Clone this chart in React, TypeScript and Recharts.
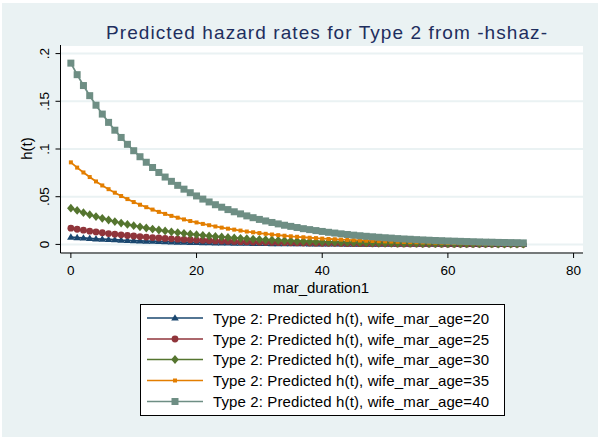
import React from 'react';
import { LineChart, Line, XAxis, YAxis, CartesianGrid } from 'recharts';

const durations = [
  0, 1, 2, 3, 4, 5, 6, 7, 8, 9, 10, 11, 12, 13, 14, 15, 16, 17, 18, 19, 20, 21, 22, 23, 24,
  25, 26, 27, 28, 29, 30, 31, 32, 33, 34, 35, 36, 37, 38, 39, 40, 41, 42, 43, 44, 45, 46, 47,
  48, 49, 50, 51, 52, 53, 54, 55, 56, 57, 58, 59, 60, 61, 62, 63, 64, 65, 66, 67, 68, 69, 70,
  71, 72,
];

const age20 = [
  0.0077, 0.0072, 0.0067, 0.0063, 0.0059, 0.0055, 0.0052, 0.0049, 0.0045, 0.0043, 0.004,
  0.0037, 0.0035, 0.0033, 0.0031, 0.0029, 0.0027, 0.0025, 0.0023, 0.0022, 0.0021, 0.0019,
  0.0018, 0.0017, 0.0016, 0.0015, 0.0014, 0.0013, 0.0012, 0.0011, 0.0011, 0.001, 0.0009,
  0.0009, 0.0008, 0.0008, 0.0007, 0.0007, 0.0006, 0.0006, 0.0005, 0.0005, 0.0005, 0.0005,
  0.0004, 0.0004, 0.0004, 0.0003, 0.0003, 0.0003, 0.0003, 0.0003, 0.0002, 0.0002, 0.0002,
  0.0002, 0.0002, 0.0002, 0.0002, 0.0002, 0.0001, 0.0001, 0.0001, 0.0001, 0.0001, 0.0001,
  0.0001, 0.0001, 0.0001, 0.0001, 0.0001, 0.0001, 0.0001,
];

const age25 = [
  0.017, 0.0159, 0.0149, 0.0139, 0.0131, 0.0122, 0.0114, 0.0107, 0.01, 0.0094, 0.0088,
  0.0082, 0.0077, 0.0072, 0.0067, 0.0063, 0.0059, 0.0055, 0.0052, 0.0049, 0.0045, 0.0043,
  0.004, 0.0037, 0.0035, 0.0033, 0.0031, 0.0029, 0.0027, 0.0025, 0.0023, 0.0022, 0.0021,
  0.0019, 0.0018, 0.0017, 0.0016, 0.0015, 0.0014, 0.0013, 0.0012, 0.0011, 0.0011, 0.001,
  0.0009, 0.0009, 0.0008, 0.0008, 0.0007, 0.0007, 0.0006, 0.0006, 0.0005, 0.0005, 0.0005,
  0.0005, 0.0004, 0.0004, 0.0004, 0.0003, 0.0003, 0.0003, 0.0003, 0.0003, 0.0002, 0.0002,
  0.0002, 0.0002, 0.0002, 0.0002, 0.0002, 0.0002, 0.0001,
];

const age30 = [
  0.038, 0.0356, 0.0333, 0.0312, 0.0292, 0.0273, 0.0256, 0.0239, 0.0224, 0.021, 0.0196,
  0.0184, 0.0172, 0.0161, 0.0151, 0.0141, 0.0132, 0.0124, 0.0116, 0.0108, 0.0102, 0.0095,
  0.0089, 0.0083, 0.0078, 0.0073, 0.0068, 0.0064, 0.006, 0.0056, 0.0052, 0.0049, 0.0046,
  0.0043, 0.004, 0.0038, 0.0035, 0.0033, 0.0031, 0.0029, 0.0027, 0.0025, 0.0024, 0.0022,
  0.0021, 0.0019, 0.0018, 0.0017, 0.0016, 0.0015, 0.0014, 0.0013, 0.0012, 0.0011, 0.0011,
  0.001, 0.0009, 0.0009, 0.0008, 0.0008, 0.0007, 0.0007, 0.0006, 0.0006, 0.0006, 0.0005,
  0.0005, 0.0005, 0.0004, 0.0004, 0.0004, 0.0004, 0.0003,
];

const age35 = [
  0.086, 0.0805, 0.0754, 0.0706, 0.066, 0.0618, 0.0579, 0.0542, 0.0507, 0.0475, 0.0444,
  0.0416, 0.039, 0.0365, 0.0341, 0.032, 0.0299, 0.028, 0.0262, 0.0245, 0.023, 0.0215,
  0.0201, 0.0188, 0.0176, 0.0165, 0.0155, 0.0145, 0.0135, 0.0127, 0.0119, 0.0111, 0.0104,
  0.0097, 0.0091, 0.0085, 0.008, 0.0075, 0.007, 0.0066, 0.0061, 0.0057, 0.0054, 0.005,
  0.0047, 0.0044, 0.0041, 0.0039, 0.0036, 0.0034, 0.0032, 0.003, 0.0028, 0.0026, 0.0024,
  0.0023, 0.0021, 0.002, 0.0019, 0.0018, 0.0016, 0.0015, 0.0014, 0.0013, 0.0013, 0.0012,
  0.0011, 0.001, 0.001, 0.0009, 0.0008, 0.0008, 0.0007,
];

const age40 = [
  0.19, 0.1779, 0.1665, 0.1559, 0.1459, 0.1366, 0.1279, 0.1197, 0.1121, 0.1049, 0.0982,
  0.0919, 0.0861, 0.0806, 0.0754, 0.0706, 0.0661, 0.0619, 0.0579, 0.0542, 0.0508, 0.0475,
  0.0445, 0.0416, 0.039, 0.0365, 0.0342, 0.032, 0.0299, 0.028, 0.0262, 0.0246, 0.023,
  0.0215, 0.0201, 0.0189, 0.0177, 0.0165, 0.0155, 0.0145, 0.0136, 0.0127, 0.0119, 0.0111,
  0.0104, 0.0097, 0.0091, 0.0085, 0.008, 0.0075, 0.007, 0.0066, 0.0061, 0.0057, 0.0054,
  0.005, 0.0047, 0.0044, 0.0041, 0.0039, 0.0036, 0.0034, 0.0032, 0.003, 0.0028, 0.0026,
  0.0024, 0.0023, 0.0021, 0.002, 0.0019, 0.0018, 0.0016,
];

const xTicks = [0, 20, 40, 60, 80];
const yTicks = [0, 0.05, 0.1, 0.15, 0.2];
const yTickLabels = ['0', '.05', '.1', '.15', '.2'];

const titleText = 'Predicted hazard rates for Type 2 from -hshaz-';
const xTitle = 'mar_duration1';
const yTitle = 'h(t)';

const seriesKeys = ['a20', 'a25', 'a30', 'a35', 'a40'];
const seriesNames = [
  'Type 2: Predicted h(t), wife_mar_age=20',
  'Type 2: Predicted h(t), wife_mar_age=25',
  'Type 2: Predicted h(t), wife_mar_age=30',
  'Type 2: Predicted h(t), wife_mar_age=35',
  'Type 2: Predicted h(t), wife_mar_age=40',
];
const seriesColors = ['#1A476F', '#90353B', '#55752F', '#E37E00', '#6E8E84'];
const seriesMarkers = ['triangle', 'circle', 'diamond', 'smsquare', 'square'];

const data = durations.map((t, i) => ({
  t,
  a20: age20[i],
  a25: age25[i],
  a30: age30[i],
  a35: age35[i],
  a40: age40[i],
}));

const FONT = '"Liberation Sans", Arial, sans-serif';

function marker(kind: string, cx: number, cy: number, color: string, key?: string) {
  if (kind === 'triangle') {
    return (
      <polygon
        key={key}
        points={`${cx},${cy - 3.8} ${cx - 3.8},${cy + 2.6} ${cx + 3.8},${cy + 2.6}`}
        fill={color}
      />
    );
  }
  if (kind === 'circle') {
    return <circle key={key} cx={cx} cy={cy} r={3.4} fill={color} />;
  }
  if (kind === 'diamond') {
    return (
      <polygon
        key={key}
        points={`${cx},${cy - 4.4} ${cx + 3.8},${cy} ${cx},${cy + 4.4} ${cx - 3.8},${cy}`}
        fill={color}
      />
    );
  }
  if (kind === 'smsquare') {
    return <rect key={key} x={cx - 2} y={cy - 2} width={4} height={4} fill={color} />;
  }
  return <rect key={key} x={cx - 3.5} y={cy - 3.5} width={7} height={7} fill={color} />;
}

const makeDot = (kind: string, color: string) => (props: any) => {
  const { cx, cy, index } = props;
  if (cx == null || cy == null) return <g key={`n-${index}`} />;
  return marker(kind, cx, cy, color, `${kind}-${index}`);
};

const YTick = (props: any) => {
  const { y, payload } = props;
  const idx = yTicks.indexOf(payload.value);
  const label = idx >= 0 ? yTickLabels[idx] : String(payload.value);
  return (
    <text
      x={49}
      y={y}
      transform={`rotate(-90 49 ${y})`}
      textAnchor="middle"
      fontFamily={FONT}
      fontSize={13.5}
      fill="#000"
    >
      {label}
    </text>
  );
};

const XTick = (props: any) => {
  const { x, payload } = props;
  return (
    <text x={x} y={275} textAnchor="middle" fontFamily={FONT} fontSize={13.5} fill="#000">
      {payload.value}
    </text>
  );
};

export default function App() {
  const legendTop = 304;
  const rowY = [318, 339, 359.5, 380.5, 401.5];
  return (
    <div style={{ position: 'absolute', left: 0, top: 0, width: 598, height: 437, background: '#fff' }}>
      <div
        style={{ position: 'absolute', left: 2, top: 3, width: 596, height: 434, background: '#EAF2F3' }}
      />
      <div style={{ position: 'absolute', left: 0, top: 0 }}>
        <LineChart
          width={598}
          height={437}
          data={data}
          margin={{ top: 45, right: 15, bottom: 154, left: 10.5 }}
        >
          <CartesianGrid
            vertical={false}
            horizontal={true}
            stroke="#EAF2F3"
            strokeWidth={2}
            fill="#ffffff"
            fillOpacity={1}
          />
          <XAxis
            dataKey="t"
            type="number"
            domain={[-1.65, 81.5]}
            ticks={xTicks}
            allowDataOverflow
            height={30}
            axisLine={{ stroke: '#000', strokeWidth: 1 }}
            tickLine={{ stroke: '#000', strokeWidth: 1 }}
            tickSize={5}
            tick={<XTick />}
            interval={0}
          />
          <YAxis
            type="number"
            domain={[-0.009, 0.209]}
            ticks={yTicks}
            allowDataOverflow
            width={50}
            axisLine={{ stroke: '#000', strokeWidth: 1 }}
            tickLine={{ stroke: '#000', strokeWidth: 1 }}
            tickSize={5}
            tick={<YTick />}
            interval={0}
          />
          {seriesKeys.map((k, i) => (
            <Line
              key={k}
              type="linear"
              dataKey={k}
              name={seriesNames[i]}
              stroke={seriesColors[i]}
              strokeWidth={1.8}
              dot={makeDot(seriesMarkers[i], seriesColors[i])}
              activeDot={false}
              isAnimationActive={false}
            />
          ))}
        </LineChart>
      </div>
      <svg
        width={598}
        height={437}
        style={{ position: 'absolute', left: 0, top: 0, pointerEvents: 'none' }}
      >
        <text
          x={106}
          y={39}
          fontFamily={FONT}
          fontSize={19}
          fill="#1E2E5E"
          textLength={441}
          lengthAdjust="spacing"
        >
          {titleText}
        </text>
        <text
          x={273}
          y={293}
          fontFamily={FONT}
          fontSize={15}
          fill="#000"
          textLength={96}
          lengthAdjust="spacing"
        >
          {xTitle}
        </text>
        <text
          x={32}
          y={148.5}
          transform="rotate(-90 32 148.5)"
          textAnchor="middle"
          fontFamily={FONT}
          fontSize={15}
          fill="#000"
        >
          {yTitle}
        </text>
        <rect x={140.5} y={legendTop + 0.5} width={364} height={111} fill="#fff" stroke="#000" strokeWidth={1} />
        {seriesNames.map((n, i) => (
          <g key={n}>
            <line x1={147} x2={203} y1={rowY[i]} y2={rowY[i]} stroke={seriesColors[i]} strokeWidth={1.6} />
            {marker(seriesMarkers[i], 175, rowY[i], seriesColors[i])}
            <text
              x={213}
              y={rowY[i] + 5.5}
              fontFamily={FONT}
              fontSize={15}
              fill="#000"
              textLength={276}
              lengthAdjust="spacing"
            >
              {n}
            </text>
          </g>
        ))}
      </svg>
    </div>
  );
}
